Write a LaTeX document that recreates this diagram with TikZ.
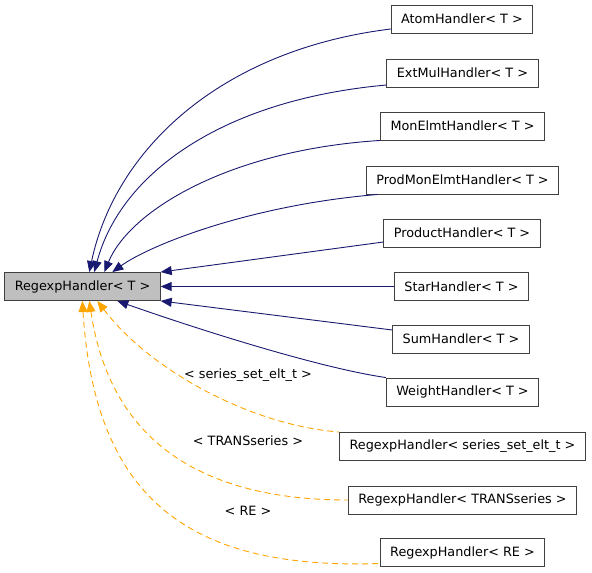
\documentclass[tikz,border=0pt]{standalone}
\usepackage{fontspec}
\setmainfont{DejaVu Sans}
\usetikzlibrary{arrows.meta}
\definecolor{edgeblue}{HTML}{191970}
\definecolor{edgeorange}{HTML}{FFA500}
\definecolor{basegray}{HTML}{BFBFBF}
\begin{document}
\begin{tikzpicture}[x=1pt,y=-1pt,
    cls/.style={draw=black!75,line width=0.9pt,fill=white,inner xsep=10pt,minimum height=28pt,font=\fontsize{12.8}{14}\selectfont},
    inh/.style={edgeblue,line width=0.9pt,{Triangle[length=11pt,width=9pt]}-},
    tmpl/.style={edgeorange,line width=0.9pt,dashed,dash pattern=on 6pt off 4pt,{Triangle[length=11pt,width=9pt]}-},
    tlabel/.style={font=\fontsize{12.8}{14}\selectfont}]
    \useasboundingbox (0,0) rectangle (592,573);
    %% base class
    \node[cls,fill=basegray] (base) at (82.5,286.5) {RegexpHandler< T >};
    %% derived classes
    \node[cls] (atom) at (462,19) {AtomHandler< T >};
    \node[cls] (extmul) at (462.5,73) {ExtMulHandler< T >};
    \node[cls] (monelmt) at (462.5,126) {MonElmtHandler< T >};
    \node[cls] (prodmonelmt) at (462.5,180) {ProdMonElmtHandler< T >};
    \node[cls] (product) at (462,233) {ProductHandler< T >};
    \node[cls] (star) at (461.5,286.5) {StarHandler< T >};
    \node[cls] (sum) at (461,339) {SumHandler< T >};
    \node[cls] (weight) at (462.5,392) {WeightHandler< T >};
    %% template instances
    \node[cls] (regseries) at (462.5,446.5) {RegexpHandler< series\_set\_elt\_t >};
    \node[cls] (regtrans) at (462.5,500) {RegexpHandler< TRANSseries >};
    \node[cls] (regre) at (462.5,552.5) {RegexpHandler< RE >};
    %% inheritance edges
    \draw[inh] ([xshift=85pt]base.north west) .. controls (115,150) and (220,50) .. ([yshift=-10pt]atom.west);
    \draw[inh] ([xshift=90pt]base.north west) .. controls (120,175) and (220,100) .. ([yshift=-12pt]extmul.west);
    \draw[inh] ([xshift=100pt]base.north west) .. controls (130,210) and (230,150) .. (monelmt.south west);
    \draw[inh] ([xshift=108pt]base.north west) .. controls (150,245) and (250,205) .. ([xshift=12pt]prodmonelmt.south west);
    \draw[inh] (base.north east) -- ([yshift=-9pt]product.west);
    \draw[inh] (base.east) -- (star.west);
    \draw[inh] (base.south east) -- ([yshift=9pt]sum.west);
    \draw[inh] ([xshift=113pt]base.south west) .. controls (200,330) and (320,368) .. (weight.north west);
    %% template edges
    \draw[tmpl] ([xshift=93pt]base.south west) .. controls (150,370) and (250,425) .. (regseries.north west);
    \draw[tmpl] ([xshift=85pt]base.south west) .. controls (110,440) and (200,500) .. (regtrans.west);
    \draw[tmpl] ([xshift=78pt]base.south west) .. controls (95,500) and (190,570) .. ([yshift=-11pt]regre.west);
    \node[tlabel] (lseries) at (248,375) {< series\_set\_elt\_t >};
    \node[tlabel] (ltrans) at (248,441) {< TRANSseries >};
    \node[tlabel] (lre) at (248,511) {< RE >};
\end{tikzpicture}
\end{document}
